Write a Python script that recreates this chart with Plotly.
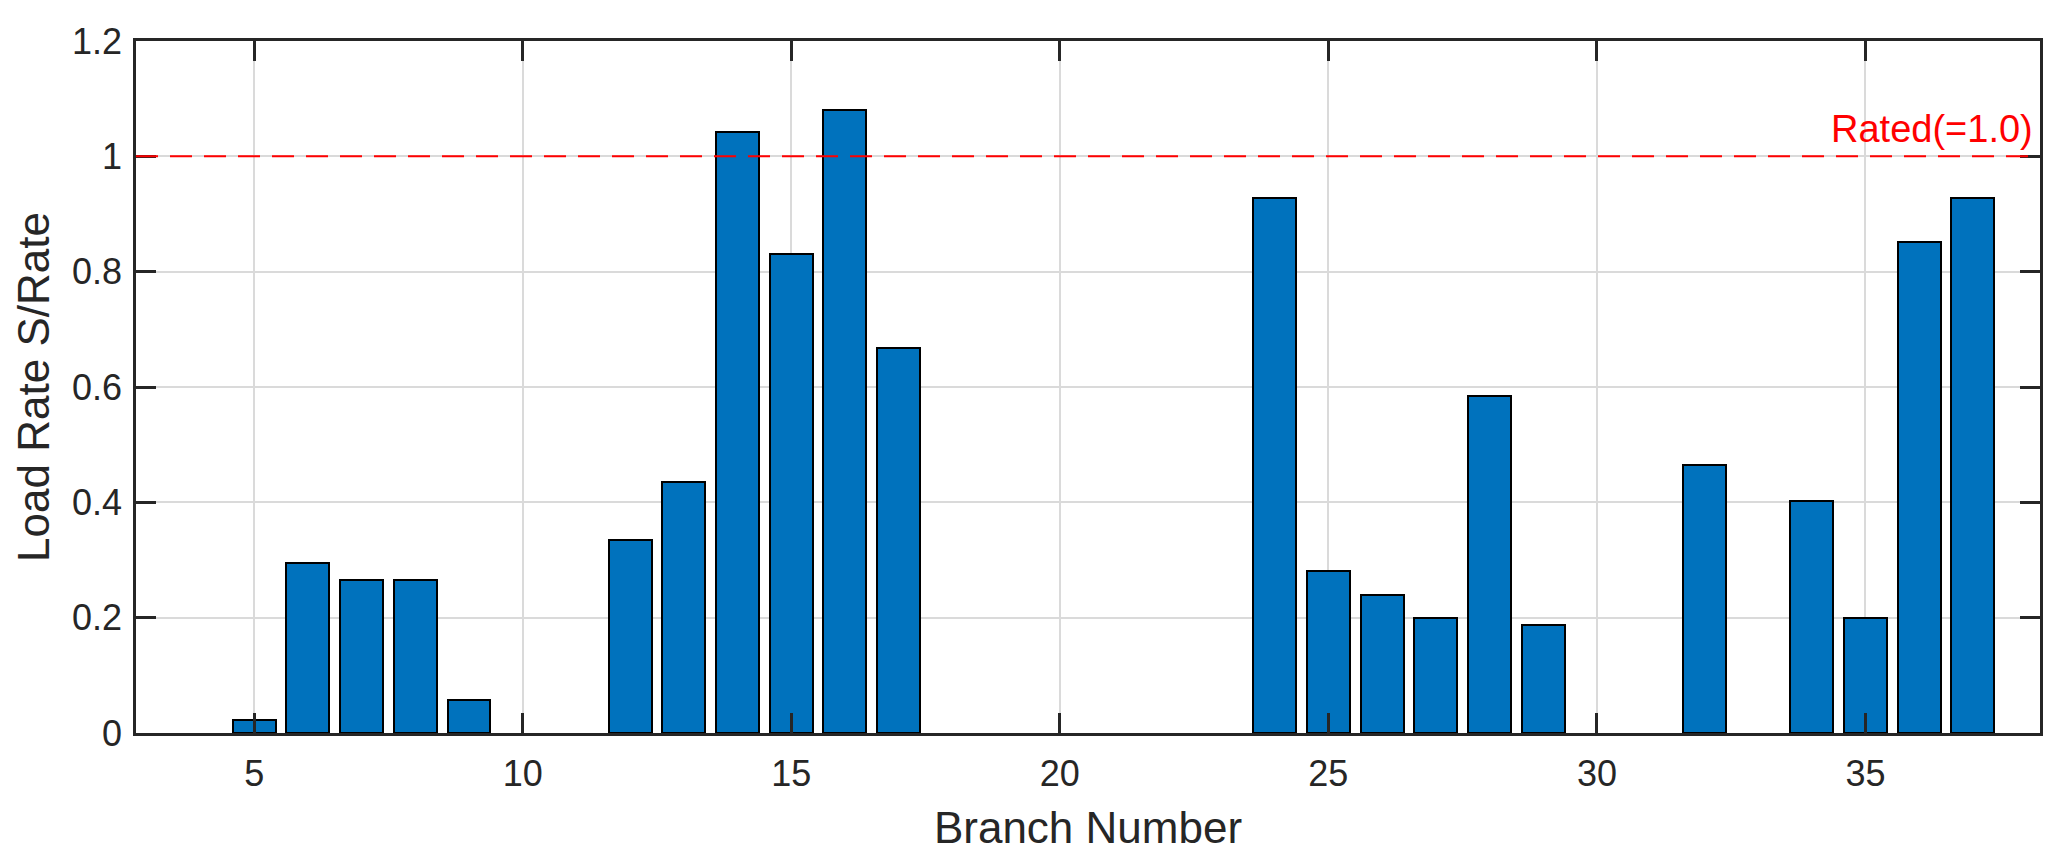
import plotly.graph_objects as go

# ---- data ----
branches = [5, 6, 7, 8, 9, 12, 13, 14, 15, 16, 17, 24, 25, 26, 27, 28, 29, 32, 34, 35, 36, 37]
load_rate = [0.022, 0.295, 0.265, 0.265, 0.057, 0.334, 0.436, 1.042, 0.830, 1.080, 0.667,
             0.927, 0.281, 0.240, 0.199, 0.584, 0.187, 0.464, 0.402, 0.199, 0.852, 0.928]
rated = 1.0
rated_label = "Rated(=1.0)"
x_ticks = [5, 10, 15, 20, 25, 30, 35]
y_ticks = [0, 0.2, 0.4, 0.6, 0.8, 1.0, 1.2]
y_tick_text = ["0", "0.2", "0.4", "0.6", "0.8", "1", "1.2"]
x_title = "Branch Number"
y_title = "Load Rate S/Rate"

FONT = "Liberation Sans, Arial, Helvetica, sans-serif"
AX = "#262626"
GRID = "#dadada"

fig = go.Figure()
fig.add_trace(go.Bar(
    x=branches, y=load_rate, width=0.8,
    marker=dict(color="#0072BD", line=dict(color="black", width=2)),
    showlegend=False,
))
fig.add_hline(y=rated, line=dict(color="red", width=2, dash="22px,12px"), layer="above")
fig.add_annotation(
    x=1, xref="paper", y=rated, yref="y", text=rated_label,
    xanchor="right", yanchor="middle", showarrow=False,
    font=dict(color="red", size=38, family=FONT), xshift=-5, yshift=27,
)

axis_common = dict(
    showline=True, linecolor=AX, linewidth=2.5, mirror="ticks",
    ticks="inside", ticklen=20, tickwidth=2.5, tickcolor=AX,
    showgrid=True, gridcolor=GRID, gridwidth=2,
    zeroline=False,
    tickfont=dict(size=36, color=AX, family=FONT),
)

fig.update_xaxes(
    range=[2.8, 38.25], tickmode="array", tickvals=x_ticks,
    title=dict(text=x_title, font=dict(size=44, color=AX, family=FONT), standoff=20),
    ticklabelstandoff=7,
    **axis_common,
)
fig.update_yaxes(
    range=[0, 1.2], tickmode="array", tickvals=y_ticks, ticktext=y_tick_text,
    title=dict(text=y_title, font=dict(size=44, color=AX, family=FONT), standoff=9),
    ticklabelstandoff=4,
    **axis_common,
)

# page body has an ~8px default margin, so shift margins to keep the plot area in place
fig.update_layout(
    width=2058, height=863,
    margin=dict(l=128, r=26, t=33, b=138, autoexpand=False),
    paper_bgcolor="white", plot_bgcolor="white",
    bargap=0,
    font=dict(family=FONT, color=AX),
)

fig.write_html("out.html")
